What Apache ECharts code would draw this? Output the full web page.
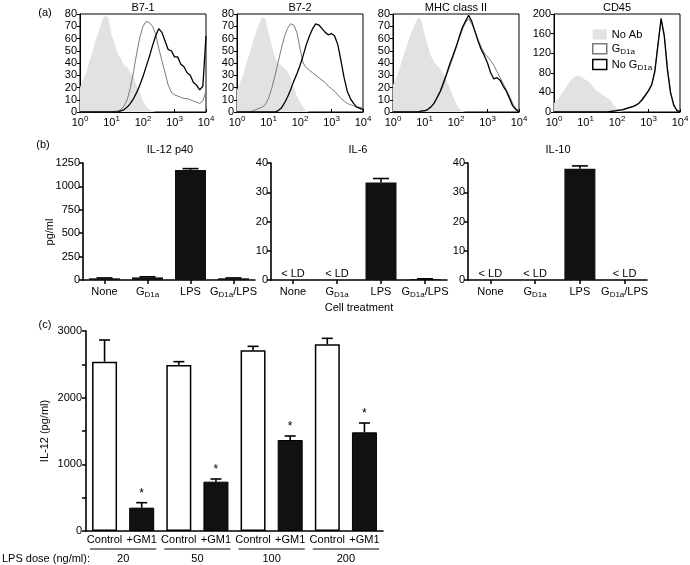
<!DOCTYPE html>
<html><head><meta charset="utf-8">
<script src="https://cdn.jsdelivr.net/npm/echarts@6/dist/echarts.min.js"></script>
<style>html,body{margin:0;padding:0;background:#fff}#c{width:690px;height:565px}</style>
</head><body><div id="c"></div>
<script>
const FONT = '"Liberation Sans", Arial, Helvetica, sans-serif';

// ---------- Panel (a): flow cytometry histograms (x = log10 fluorescence, 0.1-decade bins) ----------
const bins = Array.from({length: 41}, (_, i) => +(i / 10).toFixed(1));
const histTitles = ['B7-1', 'B7-2', 'MHC class II', 'CD45'];
const histMax = [80, 80, 80, 200];
const histStep = [10, 10, 10, 40];

const b71NoAb  = [20,27,32,42,49,59,66,75,79,77,63,56,47,44,38,37,32,29,21,16,9,5,2,1,0,0,0,0,0,0,0,0,0,0,0,0,0,0,0,0,0];
const b71Gd1a  = [0,0,0,0,0,0,0,0,0,0,0,0.5,1,2,5,10,20,33,48,61,70,74,73,70,64,52,42,32,22,16,14,13,12,11,11,10,9,8,7,9,17];
const b71NoGd  = [0,0,0,0,0,0,0,0,0,0,0,0,0,1,2,4,7,11,16,22,29,37,45,54,62,68,65,58,51,50,45,45,39,37,32,30,24,22,18,21,62];

const b72NoAb  = [18,24,31,40,48,57,65,72,78,76,65,55,45,40,38,36,33,28,20,13,8,4,1,0,0,0,0,0,0,0,0,0,0,0,0,0,0,0,0,0,0];
const b72Gd1a  = [0,0,0,0,0,1,2,3,4,6,11,19,29,40,51,61,68,72,71,65,52,40,36,34,32,30,28,26,24,21,19,17,14,11,9,7,6,5,4,4,3];
const b72NoGd  = [0,0,0,0,0,0,0,0,0,0,0,0,0,1,3,7,12,18,25,31,38,46,55,62,68,72,71,68,65,63,64,62,55,42,28,17,11,7,4,3,2];

const mhcNoAb  = [22,28,35,43,51,59,66,72,77,75,64,54,46,41,38,35,31,26,20,13,7,3,1,0,0,0,0,0,0,0,0,0,0,0,0,0,0,0,0,0,0];
const mhcGd1a  = [0,0,0,0,0,0,0,0,0,0.5,1,2,4,7,11,16,22,30,37,44,52,60,67,73,76,72,66,59,53,48,45,42,38,33,28,23,18,13,7,3,1];
const mhcNoGd  = [0,0,0,0,0,0,0,0,0,1,1,2,4,7,12,17,24,31,39,46,53,61,69,74,79,74,66,58,51,46,40,32,27,28,26,21,17,11,5,2,0];

const cd45NoAb = [18,25,33,42,52,62,69,74,73,70,66,62,55,47,41,37,33,28,23,14,6,2,0,0,0,0,0,0,0,0,0,0,0,0,0,0,0,0,0,0,0];
const cd45Gd1a = [0,0,0,0,0,0,0,0,0,0,0,0,0,0,0,0,0,0,1,2,3,4,6,8,10,11,13,19,27,36,45,57,85,140,188,160,92,42,16,4,1];
const cd45NoGd = [0,0,0,0,0,0,0,0,0,0,0,0,0,0,0,0,0,0,1,2,3,4,5,7,9,11,14,18,25,34,43,55,82,136,191,155,86,39,14,3,1];

const histSets = [
  [b71NoAb, b71Gd1a, b71NoGd],
  [b72NoAb, b72Gd1a, b72NoGd],
  [mhcNoAb, mhcGd1a, mhcNoGd],
  [cd45NoAb, cd45Gd1a, cd45NoGd]
];
const seriesNames = ['No Ab', 'GD1a', 'No GD1a'];

// ---------- Panel (b): cytokines (null = below limit of detection) ----------
const treatments = ['None', 'GD1a', 'LPS', 'GD1a/LPS'];
const cytoTitles = ['IL-12 p40', 'IL-6', 'IL-10'];
const il12 = [18, 28, 1175, 18];
const il12Err = [22, 34, 1190, 22];
const il6 = [null, null, 33.3, 0.3];
const il6Err = [null, null, 34.7, 0.4];
const il10 = [null, null, 38, null];
const il10Err = [null, null, 39, null];
const cytoMax = [1250, 40, 40];
const cytoStep = [250, 10, 10];

// ---------- Panel (c): IL-12 vs LPS dose ----------
const doseLabels = ['20', '50', '100', '200'];
const condLabels = ['Control', '+GM1'];
const controlVals = [2540, 2490, 2710, 2800];
const controlErr  = [2865, 2540, 2770, 2890];
const gm1Vals = [350, 740, 1365, 1480];
const gm1Err  = [425, 780, 1425, 1620];

// ---------- build ----------
const richSup = {
  b: {fontSize: 11, lineHeight: 16, fontFamily: FONT, color: '#000'},
  p: {fontSize: 8, lineHeight: 8, verticalAlign: 'top', fontFamily: FONT, color: '#000'}
};
const richSub = {
  m: {fontSize: 11, lineHeight: 14, fontFamily: FONT, color: '#000'},
  s: {fontSize: 8, lineHeight: 8, verticalAlign: 'bottom', fontFamily: FONT, color: '#000'}
};
function subFmt(v) {
  if (v.indexOf('GD1a') < 0) return '{m|' + v + '}';
  const rest = v.replace('GD1a', '');
  return '{m|G}{s|D1a}' + (rest ? '{m|' + rest + '}' : '');
}

const grids = [], xAxes = [], yAxes = [], series = [];
const aLeft = [80, 237, 393, 554];
aLeft.forEach((l, i) => {
  grids.push({left: l, top: 14, width: 126, height: 98, show: true, borderColor: '#000', borderWidth: 1, containLabel: false, outerBoundsMode: 'none'});
  xAxes.push({gridIndex: i, type: 'value', min: 0, max: 4, interval: 1,
    axisLine: {lineStyle: {color: '#000', width: 1}},
    axisTick: {show: true, inside: true, length: 3, lineStyle: {color: '#000'}},
    splitLine: {show: false},
    axisLabel: {margin: 3, formatter: v => '{b|10}{p|' + v + '}', rich: richSup}});
  yAxes.push({gridIndex: i, type: 'value', min: 0, max: histMax[i], interval: histStep[i],
    axisLine: {show: true, lineStyle: {color: '#000', width: 1}},
    axisTick: {show: true, length: 3, lineStyle: {color: '#000'}},
    splitLine: {show: false},
    axisLabel: {fontSize: 11, color: '#000', margin: 3, fontFamily: FONT}});
  const set = histSets[i];
  series.push({name: seriesNames[0], type: 'line', xAxisIndex: i, yAxisIndex: i, data: bins.map((d, k) => [d, set[0][k]]),
    showSymbol: false, silent: true, color: '#e2e2e2', lineStyle: {width: 0, color: '#e2e2e2'}, areaStyle: {color: '#e2e2e2', opacity: 1}, z: 1});
  series.push({name: seriesNames[1], type: 'line', xAxisIndex: i, yAxisIndex: i, data: bins.map((d, k) => [d, set[1][k]]),
    showSymbol: false, silent: true, color: '#7a7a7a', lineStyle: {width: 1, color: '#7a7a7a'}, z: 2});
  series.push({name: seriesNames[2], type: 'line', xAxisIndex: i, yAxisIndex: i, data: bins.map((d, k) => [d, set[2][k]]),
    showSymbol: false, silent: true, color: '#000', lineStyle: {width: 1.3, color: '#000'}, z: 3});
});

const bGrids = [{left: 83, width: 172}, {left: 271, width: 176}, {left: 468, width: 179}];
const cytoVals = [il12, il6, il10], cytoErrs = [il12Err, il6Err, il10Err];

function errSeries(xi, yi, data, cap, lw) {
  return {type: 'custom', xAxisIndex: xi, yAxisIndex: yi, silent: true, z: 5, clip: false,
    data: data,
    renderItem: (params, api) => {
      const i = api.value(0), v = api.value(1), e = api.value(2), star = api.value(3);
      const p1 = api.coord([i, v]), p2 = api.coord([i, e]);
      const ch = [
        {type: 'line', shape: {x1: p1[0], y1: p1[1], x2: p2[0], y2: p2[1]}, style: {stroke: '#000', lineWidth: lw}},
        {type: 'line', shape: {x1: p2[0] - cap, y1: p2[1], x2: p2[0] + cap, y2: p2[1]}, style: {stroke: '#000', lineWidth: lw}}
      ];
      if (star === 1) ch.push({type: 'text', x: p2[0], y: p2[1] - 3, style: {text: '*', fontSize: 12, fontFamily: FONT, fill: '#000', align: 'center', verticalAlign: 'bottom'}});
      return {type: 'group', children: ch};
    }};
}

bGrids.forEach((g, j) => {
  const gi = 4 + j;
  grids.push({left: g.left, width: g.width, top: 163, height: 117, containLabel: false, outerBoundsMode: 'none'});
  xAxes.push({gridIndex: gi, type: 'category', data: treatments,
    name: j === 1 ? 'Cell treatment' : '', nameLocation: 'middle', nameGap: 22,
    nameTextStyle: {fontSize: 11, color: '#000', fontFamily: FONT},
    axisLine: {lineStyle: {color: '#000', width: 1.6}},
    axisTick: {show: true, alignWithLabel: true, length: 4, lineStyle: {color: '#000', width: 1.5}},
    axisLabel: {margin: 5, formatter: subFmt, rich: richSub, interval: 0}});
  yAxes.push({gridIndex: gi, type: 'value', min: 0, max: cytoMax[j], interval: cytoStep[j],
    axisLine: {show: true, lineStyle: {color: '#000', width: 1.6}},
    axisTick: {show: true, length: 4, lineStyle: {color: '#000', width: 1.5}},
    splitLine: {show: false},
    axisLabel: {fontSize: 11, color: '#000', margin: 3, fontFamily: FONT, formatter: v => String(v)}});
  const vals = cytoVals[j], errs = cytoErrs[j];
  series.push({type: 'bar', xAxisIndex: gi, yAxisIndex: gi, barWidth: 31, silent: true,
    itemStyle: {color: '#111'},
    data: vals.map(v => v === null
      ? {value: 0, label: {show: true, position: 'top', distance: 1, formatter: '< LD', fontSize: 11, color: '#000', fontFamily: FONT}}
      : v)});
  series.push(errSeries(gi, gi, vals.map((v, k) => v === null ? null : [k, v, errs[k], 0]).filter(d => d), 8, 1.6));
});

// Panel (c)
const cCats = [], cData = [], cErr = [];
doseLabels.forEach((d, k) => {
  cCats.push(condLabels[0] + '#' + k, condLabels[1] + '#' + k);
  cData.push({value: controlVals[k], itemStyle: {color: '#fff', borderColor: '#000', borderWidth: 1.5}});
  cData.push({value: gm1Vals[k], itemStyle: {color: '#111', borderColor: '#000', borderWidth: 1}});
  cErr.push([2 * k, controlVals[k], controlErr[k], 0]);
  cErr.push([2 * k + 1, gm1Vals[k], gm1Err[k], 1]);
});
grids.push({left: 86, top: 331, width: 297, height: 200, containLabel: false, outerBoundsMode: 'none'});
xAxes.push({gridIndex: 7, type: 'category', data: cCats,
  axisLine: {lineStyle: {color: '#000', width: 1.6}},
  axisTick: {show: false},
  axisLabel: {margin: 3, fontSize: 11, color: '#000', fontFamily: FONT, interval: 0, formatter: v => v.split('#')[0]}});
xAxes.push({gridIndex: 7, type: 'category', data: doseLabels, position: 'bottom', offset: 18,
  axisLine: {show: false}, axisTick: {show: false},
  axisLabel: {margin: 4, fontSize: 11, color: '#000', fontFamily: FONT}});
yAxes.push({gridIndex: 7, type: 'value', min: 0, max: 3000, interval: 500,
  name: 'IL-12 (pg/ml)', nameLocation: 'middle', nameGap: 36, nameRotate: 90,
  nameTextStyle: {fontSize: 11, color: '#000', fontFamily: FONT},
  axisLine: {show: true, lineStyle: {color: '#000', width: 1.6}},
  axisTick: {show: true, length: 4, lineStyle: {color: '#000', width: 1.5}},
  splitLine: {show: false},
  axisLabel: {fontSize: 11, color: '#000', margin: 4, fontFamily: FONT, formatter: v => (v % 1000 === 0 ? String(v) : '')}});
series.push({type: 'bar', xAxisIndex: 7, yAxisIndex: 7, barWidth: 25, silent: true, data: cData});
series.push(errSeries(7, 7, cErr, 5.5, 1.6));
// dose group underlines
series.push({type: 'custom', xAxisIndex: 8, yAxisIndex: 7, silent: true, clip: false,
  data: doseLabels.map((d, k) => [k, 0]),
  renderItem: (params, api) => {
    const c = api.coord([api.value(0), 0]);
    const bw = api.size([1, 0])[0];
    const y = params.coordSys.y + params.coordSys.height + 18;
    return {type: 'line', shape: {x1: c[0] - bw / 2 + 4, y1: y, x2: c[0] + bw / 2 - 4, y2: y}, style: {stroke: '#000', lineWidth: 1.2}};
  }});

function txt(x, y, text, extra) {
  return Object.assign({type: 'text', x: x, y: y, silent: true,
    style: {text: text, fontSize: 11, fontFamily: FONT, fill: '#000', align: 'center', verticalAlign: 'middle'}}, extra || {});
}
const graphics = [
  txt(45, 13, '(a)'), txt(43, 145, '(b)'), txt(45, 325, '(c)'),
  txt(143, 8, histTitles[0]), txt(300, 8, histTitles[1]), txt(456, 8, histTitles[2]), txt(617, 8, histTitles[3]),
  txt(170, 150, cytoTitles[0]), txt(358, 150, cytoTitles[1]), txt(558, 150, cytoTitles[2]),
  txt(50, 232, 'pg/ml', {rotation: Math.PI / 2}),
  {type: 'text', x: 2, y: 559, silent: true, style: {text: 'LPS dose (ng/ml):', fontSize: 11, fontFamily: FONT, fill: '#000', align: 'left', verticalAlign: 'middle'}}
];

const option = {
  animation: false,
  backgroundColor: '#fff',
  textStyle: {fontFamily: FONT, color: '#000'},
  grid: grids, xAxis: xAxes, yAxis: yAxes, series: series,
  legend: {left: 587, top: 24, orient: 'vertical', itemWidth: 14, itemHeight: 10, itemGap: 3, selectedMode: false,
    data: [
      {name: 'No Ab', icon: 'rect', itemStyle: {color: '#e2e2e2', borderWidth: 0}},
      {name: 'GD1a', icon: 'rect', itemStyle: {color: '#fff', borderColor: '#7a7a7a', borderWidth: 1.5}},
      {name: 'No GD1a', icon: 'rect', itemStyle: {color: '#fff', borderColor: '#000', borderWidth: 1.5}}
    ],
    formatter: n => n === 'No Ab' ? '{m|No Ab}' : (n === 'GD1a' ? '{m|G}{s|D1a}' : '{m|No G}{s|D1a}'),
    textStyle: {rich: richSub}
  },
  graphic: graphics
};
const chart = echarts.init(document.getElementById('c'));
chart.setOption(option);
</script></body></html>
